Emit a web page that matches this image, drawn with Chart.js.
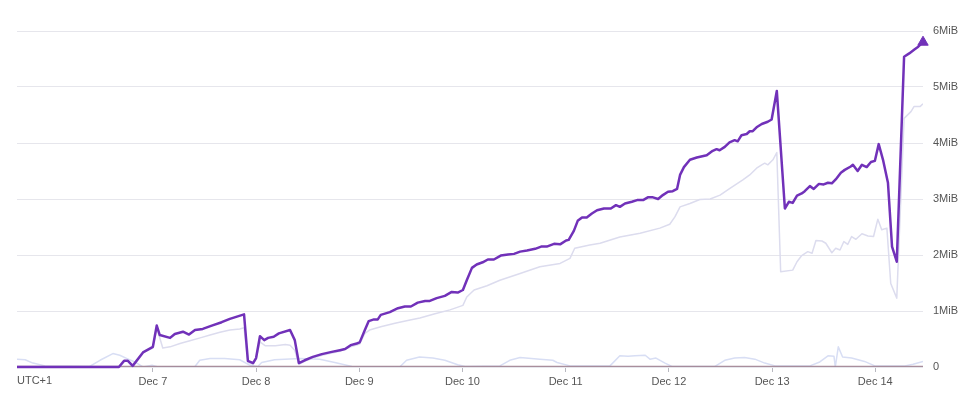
<!DOCTYPE html>
<html>
<head>
<meta charset="utf-8">
<script src="https://cdn.jsdelivr.net/npm/chart.js@4/dist/chart.umd.min.js"></script>
<style>
html,body{margin:0;padding:0;background:#fff;}
#wrap{width:964px;height:396px;position:relative;}
</style>
</head>
<body>
<div id="wrap"><canvas id="c" width="964" height="396"></canvas></div>
<script>
// x values are hours since Dec 5 00:00 (UTC+1); y values in MiB
const xMin = 16.4, xMax = 227.1;
const dayTicks = [48, 72, 96, 120, 144, 168, 192, 216];
const dayLabels = ["Dec 7", "Dec 8", "Dec 9", "Dec 10", "Dec 11", "Dec 12", "Dec 13", "Dec 14"];
const yTickLabels = ["0", "1MiB", "2MiB", "3MiB", "4MiB", "5MiB", "6MiB"];
const tzLabel = "UTC+1";

const mainHours = [16.4,40.1,41.3,42.2,43.3,45.7,48.0,48.9,49.6,52.0,53.1,55.0,56.4,57.8,59.6,61.7,64.0,65.9,69.2,70.1,71.3,72.0,72.9,73.9,74.8,76.1,77.3,79.9,81.0,81.95,83.3,85.2,87.3,89.6,91.5,92.7,94.0,95.4,96.1,97.3,98.2,99.4,100.3,101.0,103.1,105.0,106.6,108.0,109.6,111.3,112.4,114.0,115.9,117.5,118.9,120.1,121.0,122.2,123.3,124.7,125.9,127.3,128.9,130.6,132.0,133.4,135.0,136.9,138.3,139.6,141.3,142.7,144.1,144.7,145.9,146.8,147.8,148.9,150.1,151.3,152.9,154.5,155.7,156.6,157.8,159.4,160.6,162.0,163.1,164.3,165.5,166.6,167.8,168.9,169.9,170.6,171.5,172.9,174.5,176.8,178.2,179.1,179.8,181.0,182.1,183.3,184.0,184.9,186.1,186.8,187.5,188.4,189.6,191.0,191.9,193.1,194.98,195.9,196.8,197.8,198.9,199.6,200.8,201.7,202.9,204.0,205.0,205.9,206.8,208.0,208.9,210.3,210.8,211.9,212.9,214.0,215.0,215.9,216.8,217.8,218.95,219.9,221.0,222.7,223.9,225.1,226.0,227.1];
const mainValues = [0,0,0.11,0.11,0.02,0.26,0.36,0.74,0.57,0.52,0.59,0.63,0.58,0.66,0.68,0.74,0.80,0.86,0.94,0.11,0.07,0.16,0.55,0.48,0.52,0.54,0.60,0.66,0.48,0.07,0.12,0.18,0.23,0.27,0.30,0.32,0.39,0.42,0.44,0.66,0.82,0.85,0.85,0.93,0.98,1.05,1.08,1.08,1.15,1.18,1.18,1.23,1.27,1.34,1.33,1.375,1.55,1.77,1.83,1.87,1.92,1.92,1.99,2.01,2.02,2.06,2.08,2.11,2.15,2.15,2.20,2.19,2.26,2.27,2.43,2.61,2.67,2.67,2.74,2.80,2.83,2.83,2.89,2.86,2.92,2.95,2.98,2.98,3.03,3.03,3.00,3.07,3.13,3.14,3.18,3.43,3.57,3.70,3.74,3.78,3.86,3.89,3.87,3.93,4.01,4.05,4.03,4.14,4.16,4.21,4.21,4.28,4.34,4.38,4.42,4.93,2.83,2.95,2.93,3.06,3.10,3.14,3.23,3.18,3.27,3.26,3.29,3.28,3.35,3.47,3.52,3.58,3.61,3.50,3.61,3.57,3.66,3.68,3.98,3.70,3.29,2.15,1.88,5.54,5.60,5.67,5.72,5.80];

const secondHours = [16.4,40.1,41.3,42.2,43.3,45.7,48.0,48.9,50.3,52.0,54.3,56.6,59.0,61.3,63.6,65.9,68.2,69.2,70.1,71.3,72.0,72.9,74.1,76.5,78.8,79.9,81.0,81.95,83.3,85.2,87.3,89.6,91.5,94.0,96.1,97.3,98.4,101.0,104.3,107.8,110.1,113.6,117.1,120.1,121.0,122.7,125.7,128.7,133.4,138.0,142.7,145.0,146.1,149.6,152.0,156.6,161.3,165.9,168.2,169.4,170.6,172.9,175.2,177.6,179.9,182.2,185.2,186.8,188.4,189.6,190.3,191.0,192.2,193.1,194.0,196.8,197.8,198.9,200.3,201.3,202.2,203.6,204.5,205.9,206.8,207.8,208.7,209.6,210.5,211.5,212.9,214.3,215.6,216.6,217.5,218.7,219.6,221.0,222.7,224.3,225.0,226.4,227.1];
const secondValues = [0,0,0.11,0.11,0.02,0.26,0.34,0.70,0.34,0.36,0.42,0.47,0.52,0.57,0.62,0.66,0.68,0.70,0.08,0.05,0.14,0.45,0.38,0.38,0.40,0.39,0.30,0.05,0.10,0.16,0.21,0.25,0.28,0.36,0.41,0.60,0.66,0.72,0.78,0.84,0.875,0.95,1.02,1.10,1.25,1.375,1.45,1.55,1.67,1.79,1.85,1.94,2.12,2.18,2.21,2.32,2.39,2.48,2.55,2.68,2.86,2.92,2.99,3.00,3.07,3.19,3.34,3.43,3.55,3.61,3.64,3.61,3.70,3.83,1.70,1.73,1.88,1.99,2.06,2.03,2.26,2.25,2.21,2.04,2.12,2.09,2.24,2.19,2.33,2.28,2.38,2.34,2.33,2.64,2.45,2.48,1.49,1.23,4.44,4.56,4.65,4.65,4.70];

const thirdHours = [16.4,18.3,20.1,22.9,33.3,35.7,38.7,40.3,42.0,43.8,45.7,47.8,49.2,57.8,58.9,61.3,64.7,68.2,70.6,72.4,73.3,76.3,82.2,86.8,90.3,94.3,105.4,107.0,110.0,113.1,115.9,118.9,120.6,128.7,131.0,133.4,138.0,141.0,142.0,145.0,154.3,156.6,158.5,160.1,162.5,163.6,165.0,167.1,168.7,178.7,181.0,183.3,185.6,188.0,190.3,192.7,200.8,203.1,205.0,206.4,206.7,207.4,208.4,210.5,213.5,215.9,222.9,224.8,227.1];
const thirdValues = [0.14,0.13,0.07,0.02,0.01,0.12,0.24,0.21,0.15,0.09,0.0,0.03,0.0,0.01,0.12,0.15,0.15,0.13,0.03,0.01,0.08,0.13,0.15,0.14,0.08,0.01,0.0,0.12,0.18,0.16,0.12,0.04,0.01,0.02,0.12,0.17,0.14,0.12,0.08,0.02,0.02,0.20,0.19,0.20,0.21,0.14,0.16,0.07,0.01,0.01,0.12,0.16,0.17,0.14,0.07,0.02,0.02,0.09,0.20,0.19,0.0,0.36,0.18,0.16,0.10,0.02,0.02,0.05,0.10];

const zeroHours = [16.4, 227.1];
const zeroValues = [0, 0];

function pts(h, v){ return h.map((x,i)=>({x:x, y:v[i]})); }

const FONT = "'Liberation Sans', Arial, Helvetica, sans-serif";

const tzPlugin = {
  id: 'tz',
  afterDraw(chart){
    const ctx = chart.ctx;
    const ca = chart.chartArea;
    ctx.save();
    ctx.font = "11px " + FONT;
    ctx.fillStyle = "#555";
    ctx.textAlign = "left";
    ctx.textBaseline = "middle";
    ctx.fillText(tzLabel, ca.left, 381);
    ctx.restore();
  }
};

const lastIdx = mainHours.length - 1;

new Chart(document.getElementById('c'), {
  type: 'line',
  data: {
    datasets: [
      {
        data: pts(mainHours, mainValues),
        borderColor: '#7131b9',
        backgroundColor: '#7131b9',
        borderWidth: 2.5,
        borderJoinStyle: 'round',
        tension: 0,
        clip: false,
        pointStyle: 'triangle',
        pointRadius: (c)=> c.dataIndex === lastIdx ? 6 : 0,
        pointBorderWidth: 1,
        pointHoverRadius: 0,
        order: 0
      },
      {
        data: pts(zeroHours, zeroValues),
        borderColor: 'rgba(160,130,145,0.9)',
        borderWidth: 2.5,
        pointRadius: 0,
        tension: 0,
        order: 1
      },
      {
        data: pts(secondHours, secondValues),
        borderColor: '#dcdcee',
        borderWidth: 1.5,
        borderJoinStyle: 'round',
        pointRadius: 0,
        tension: 0,
        order: 2
      },
      {
        data: pts(thirdHours, thirdValues),
        borderColor: '#d8def4',
        borderWidth: 1.5,
        borderJoinStyle: 'round',
        pointRadius: 0,
        tension: 0,
        order: 3
      }
    ]
  },
  options: {
    responsive: false,
    animation: false,
    events: [],
    layout: { padding: { left: 17, top: 31, right: 0, bottom: 0 } },
    plugins: { legend: { display: false }, tooltip: { enabled: false } },
    scales: {
      x: {
        type: 'linear',
        min: xMin,
        max: xMax,
        afterBuildTicks(scale){ scale.ticks = dayTicks.map(v=>({value:v})); },
        afterFit(scale){ scale.height = 29; },
        border: { display: false },
        grid: { drawOnChartArea: false, drawTicks: true, tickLength: 5, color: '#b8b8c0' },
        ticks: {
          autoSkip: false,
          maxRotation: 0,
          padding: 3,
          color: '#555',
          font: { family: FONT, size: 11 },
          callback: (v)=> { const i = dayTicks.indexOf(v); return i >= 0 ? dayLabels[i] : ''; }
        }
      },
      y: {
        position: 'right',
        min: 0,
        max: 6,
        afterBuildTicks(scale){ scale.ticks = yTickLabels.map((_,i)=>({value:i})); },
        afterFit(scale){ scale.width = 41; },
        border: { display: false },
        grid: { color: '#e6e6ec', drawTicks: false, lineWidth: 1 },
        ticks: {
          padding: 10,
          color: '#555',
          font: { family: FONT, size: 11 },
          callback: (v)=> yTickLabels[v] ?? ''
        }
      }
    }
  },
  plugins: [tzPlugin]
});
</script>
</body>
</html>
